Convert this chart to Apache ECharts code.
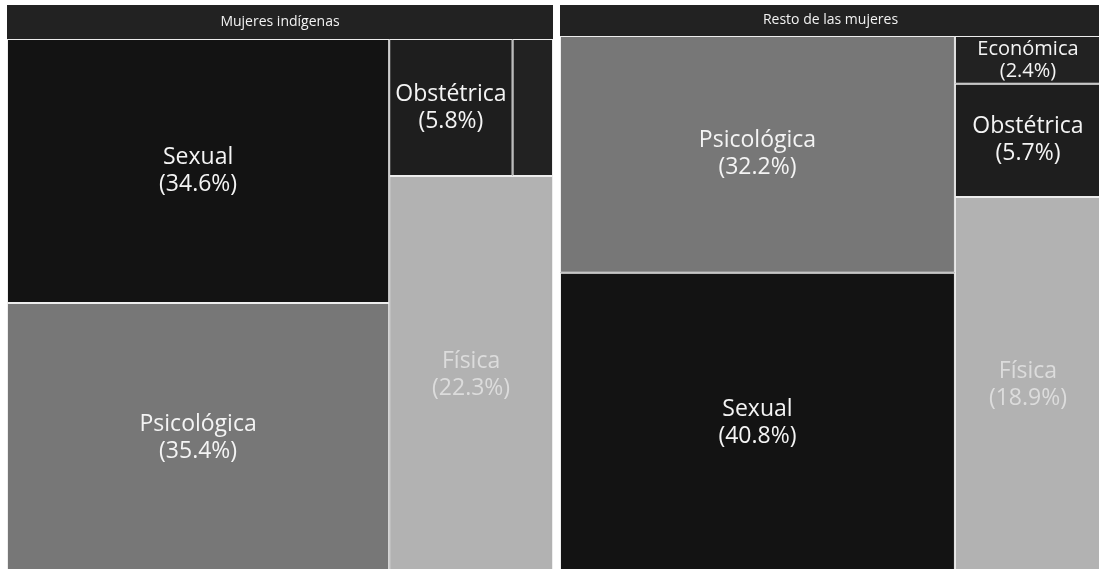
<!DOCTYPE html>
<html>
<head>
<meta charset="utf-8">
<script src="https://cdn.jsdelivr.net/npm/echarts@6/dist/echarts.min.js"></script>
<style>
html,body{margin:0;padding:0;background:#fff;}
#c{width:1099px;height:569px;}
</style>
</head>
<body>
<div id="c"></div>
<script>
const groups = ['Mujeres indígenas', 'Resto de las mujeres'];
const catsIndigenas = ['Sexual', 'Psicológica', 'Obstétrica', 'Económica', 'Física'];
const valsIndigenas = [34.6, 35.4, 5.8, 1.9, 22.3];
const catsResto = ['Psicológica', 'Sexual', 'Económica', 'Obstétrica', 'Física'];
const valsResto = [32.2, 40.8, 2.4, 5.7, 18.9];

const catColors = {
  'Sexual': '#131313',
  'Psicológica': '#777777',
  'Obstétrica': '#1e1e1e',
  'Económica': '#222222',
  'Física': '#b2b2b2'
};
const catLabelColors = {
  'Física': '#dcdcdc'
};
const hiddenLabels = { 0: ['Económica'], 1: [] };

const FONT = '"Open Sans", sans-serif';
const GAP = '#ededed';
const HEADER = '#222222';

function buildChildren(gi, cats, vals) {
  return cats.map((c, i) => {
    const small = c === 'Económica';
    return {
      name: c,
      value: vals[i],
      itemStyle: { color: catColors[c] },
      label: {
        show: hiddenLabels[gi].indexOf(c) < 0,
        color: catLabelColors[c] || '#f4f4f4',
        fontSize: small ? 20 : 23,
        lineHeight: small ? 22 : 27
      }
    };
  });
}

function makeSeries(gi, cats, vals, box, upperH, ratio) {
  return {
    type: 'treemap',
    left: box.left, top: box.top, width: box.width, height: box.height,
    roam: false,
    nodeClick: false,
    breadcrumb: { show: false },
    sort: false,
    squareRatio: ratio,
    animation: false,
    label: {
      show: true,
      position: 'inside',
      align: 'center',
      verticalAlign: 'middle',
      padding: 0,
      fontFamily: FONT,
      fontSize: 23,
      lineHeight: 27,
      formatter: p => p.name + '\n(' + p.value.toFixed(1) + '%)'
    },
    levels: [
      { itemStyle: { borderWidth: 0, gapWidth: 0, borderColor: '#fff' } },
      {
        itemStyle: { borderWidth: 0, gapWidth: 0, borderColor: HEADER },
        upperLabel: {
          show: true,
          height: upperH,
          position: 'inside',
          align: 'center',
          verticalAlign: 'middle',
          color: '#f2f2f2',
          fontFamily: FONT,
          fontSize: 14,
          padding: 0,
          formatter: '{b}'
        }
      },
      { itemStyle: { borderWidth: 1, gapWidth: 0, borderColor: GAP } }
    ],
    data: [{
      name: groups[gi],
      children: buildChildren(gi, cats, vals)
    }]
  };
}

const chart = echarts.init(document.getElementById('c'), null, { renderer: 'canvas' });
chart.setOption({
  backgroundColor: '#ffffff',
  tooltip: { show: false },
  series: [
    makeSeries(0, catsIndigenas, valsIndigenas, { left: 7, top: 5, width: 546, height: 568 }, 34, 1.618),
    makeSeries(1, catsResto, valsResto, { left: 560, top: 5, width: 541, height: 568 }, 31, 1.0)
  ]
});
</script>
</body>
</html>
